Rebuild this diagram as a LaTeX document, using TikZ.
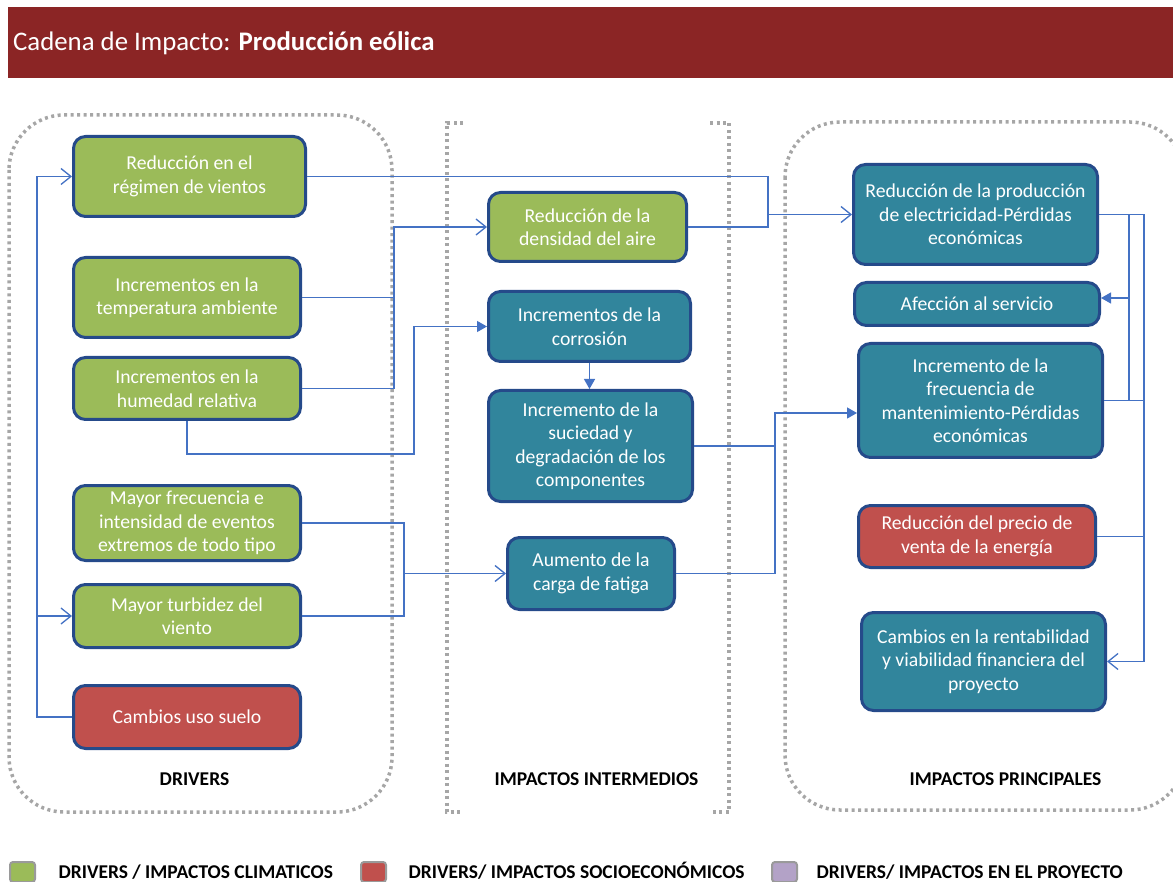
\documentclass[tikz,border=0pt]{standalone}
\usepackage{fontspec}
\setmainfont{Carlito}
\usetikzlibrary{arrows.meta}
\definecolor{cgreen}{HTML}{9BBB59}
\definecolor{cred}{HTML}{C0504D}
\definecolor{cteal}{HTML}{31859C}
\definecolor{cborder}{HTML}{254A8A}
\definecolor{cline}{HTML}{4472C4}
\definecolor{ctitle}{HTML}{8B2525}
\definecolor{cdot}{HTML}{A6A6A6}
\definecolor{cpurple}{HTML}{B3A2C7}
\definecolor{clegb}{HTML}{9A9A9A}
\begin{document}
\begin{tikzpicture}[x=1pt,y=-1pt,
  box/.style={draw=cborder, line width=3pt, rounded corners=12pt, text=white, align=center,
    font=\fontsize{19.7}{23.5}\selectfont, inner sep=0pt},
  gbox/.style={box, fill=cgreen},
  rbox/.style={box, fill=cred},
  tbox/.style={box, fill=cteal},
  conn/.style={draw=cline, line width=1.3pt},
  openarr/.style={-{Straight Barb[length=10pt,width=16pt,line width=1.3pt]}},
  fillarr/.style={-{Triangle[length=10pt,width=11pt]}},
  grp/.style={draw=cdot, line width=3.5pt, dash pattern=on 3pt off 3.5pt},
  lbl/.style={font=\fontsize{19.5}{23.5}\selectfont\bfseries, anchor=base},
  legsq/.style={draw=clegb, line width=2pt, rounded corners=3pt},
  legtxt/.style={font=\fontsize{19.5}{23.5}\selectfont\bfseries, anchor=base west}
]
\useasboundingbox (0,0) rectangle (1173,882);

% title bar
\fill[ctitle] (8,7) rectangle (1180,78);
\node[anchor=base west, text=white, inner sep=0pt, font=\fontsize{26.8}{30}\selectfont] (title) at (13,51)
  {Cadena de Impacto: \textbf{Producción eólica}};

% group frames
\draw[grp, rounded corners=55pt] (9,115) rectangle (392,812);
\draw[grp] (463,123) -- (447,123) -- (447,812) -- (463,812);
\draw[grp] (710,123) -- (729,123) -- (729,812) -- (710,812);
\draw[grp, rounded corners=55pt] (785,122) rectangle (1185,810);

\node[lbl] (gl1) at (194.5,785) {DRIVERS};
\node[lbl] (gl2) at (596.5,785) {IMPACTOS INTERMEDIOS};
\node[lbl] (gl3) at (1005.5,785) {IMPACTOS PRINCIPALES};

% drivers
\node[gbox, minimum width=232, minimum height=80] (d1) at (189.5,176.5) {Reducción en el\\régimen de vientos};
\node[gbox, minimum width=227, minimum height=80] (d2) at (187,297.5) {Incrementos en la\\temperatura ambiente};
\node[gbox, minimum width=227, minimum height=62] (d3) at (187,388.5) {Incrementos en la\\humedad relativa};
\node[gbox, minimum width=227, minimum height=75] (d4) at (187,523) {Mayor frecuencia e\\intensidad de eventos\\extremos de todo tipo};
\node[gbox, minimum width=227, minimum height=63] (d5) at (187,616) {Mayor turbidez del\\viento};
\node[rbox, minimum width=227, minimum height=63] (d6) at (187,717) {Cambios uso suelo};

% intermediate
\node[gbox, minimum width=198, minimum height=69] (i1) at (587.5,227) {Reducción de la\\densidad del aire};
\node[tbox, minimum width=202, minimum height=70] (i2) at (589.5,326.5) {Incrementos de la\\corrosión};
\node[tbox, minimum width=204, minimum height=111] (i3) at (590.5,446) {Incremento de la\\suciedad y\\degradación de los\\componentes};
\node[tbox, minimum width=167, minimum height=72] (i4) at (591,573.5) {Aumento de la\\carga de fatiga};

% principal
\node[tbox, minimum width=244, minimum height=100] (r1) at (975.5,214.5) {Reducción de la producción\\de electricidad-Pérdidas\\económicas};
\node[tbox, minimum width=245, minimum height=43] (r2) at (977,304) {Afección al servicio};
\node[tbox, minimum width=244, minimum height=114] (r3) at (980.5,400.5) {Incremento de la\\frecuencia de\\mantenimiento-Pérdidas\\económicas};
\node[rbox, minimum width=237, minimum height=62] (r4) at (977,536.5) {Reducción del precio de\\venta de la energía};
\node[tbox, minimum width=244, minimum height=98] (r5) at (983.5,661.5) {Cambios en la rentabilidad\\y viabilidad financiera del\\proyecto};

% junction coordinates
\coordinate (L) at (37,0);
\coordinate (J1) at (768,214.5);
\coordinate (J2) at (394,227);
\coordinate (C3) at (414,454);
\coordinate (J4) at (404,573.5);
\coordinate (J5) at (775,413);
\coordinate (K) at (1144,0);
\coordinate (K2) at (1129,0);
\coordinate (A2) at (1129,298);

% connectors: drivers
\draw[conn, openarr] (d6.west) -- (d6.west -| L) |- (d1.west);
\draw[conn, openarr] (d5.west -| L) -- (d5.west);
\draw[conn, openarr] (d1.east) -| (J1) -- (r1.west);
\draw[conn] (i1.east) -| (J1);
\draw[conn, openarr] (d2.east) -| (J2) -- (i1.west);
\draw[conn] (d3.east) -| (J2);
\draw[conn, fillarr] (d3.south) |- (C3) |- (i2.west);
\draw[conn, fillarr] (i2.south) -- (i2.south |- i3.north);
\draw[conn, openarr] (d4.east) -| (J4) -- (i4.west);
\draw[conn] (d5.east) -| (J4);
\draw[conn, fillarr] (i3.east) -| (J5) -- (J5 -| r3.west);
\draw[conn] (i4.east) -| (J5);

% connectors: principal
\draw[conn, openarr] (r1.east) -| (K |- r5.east) -- (r5.east);
\draw[conn] (r3.east) -- (r3.east -| K);
\draw[conn] (r4.east) -- (r4.east -| K);
\draw[conn] (r1.east -| K2) -- (r3.east -| K2);
\draw[conn, fillarr] (A2) -- (A2 -| r2.east);

% legend
\draw[legsq, fill=cgreen] (10,862) rectangle (35,882);
\node[legtxt] (lg1) at (55,878) {DRIVERS / IMPACTOS CLIMATICOS};
\draw[legsq, fill=cred] (361,862) rectangle (386,882);
\node[legtxt] (lg2) at (405,878) {DRIVERS/ IMPACTOS SOCIOECONÓMICOS};
\draw[legsq, fill=cpurple] (772,862) rectangle (797,882);
\node[legtxt] (lg3) at (813,878) {DRIVERS/ IMPACTOS EN EL PROYECTO};
\end{tikzpicture}
\end{document}
